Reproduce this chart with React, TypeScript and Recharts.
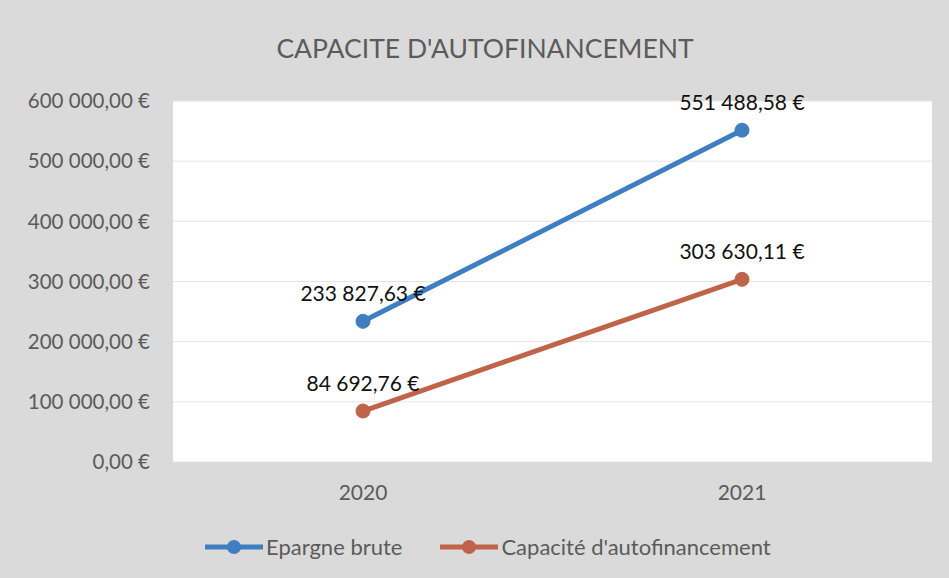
import React from 'react';
import { LineChart, Line, XAxis, YAxis, CartesianGrid, LabelList } from 'recharts';

const years = ['2020', '2021'];
const epargneBrute = [233827.63, 551488.58];
const capaciteAutofinancement = [84692.76, 303630.11];
const yTicks = [0, 100000, 200000, 300000, 400000, 500000, 600000];

const BLUE = '#3f7fc1';
const RED = '#c0634b';
const GREY_TEXT = '#5b5b5b';
const FONT = 'Lato, "Open Sans", sans-serif';

const data = years.map((year, i) => ({
  year,
  epargne: epargneBrute[i],
  caf: capaciteAutofinancement[i],
}));

function formatEuro(value: number): string {
  const [intPart, decPart] = value.toFixed(2).split('.');
  const grouped = intPart.replace(/\B(?=(\d{3})+(?!\d))/g, ' ');
  return `${grouped},${decPart} €`;
}

function LegendItem({ color, label }: { color: string; label: string }) {
  return (
    <span style={{ display: 'inline-flex', alignItems: 'center' }}>
      <svg width={58} height={16} style={{ marginRight: 3 }}>
        <line x1={0} y1={8} x2={58} y2={8} stroke={color} strokeWidth={5} />
        <circle cx={29} cy={8} r={7} fill={color} />
      </svg>
      {label}
    </span>
  );
}

export default function App() {
  return (
    <div
      style={{
        position: 'relative',
        width: 949,
        height: 578,
        background: '#dadada',
        fontFamily: FONT,
        overflow: 'hidden',
      }}
    >
      <style>{'body{margin:0}'}</style>
      <div
        style={{
          position: 'absolute',
          top: 32,
          left: 0,
          width: 970,
          textAlign: 'center',
          fontSize: 26.5,
          color: GREY_TEXT,
        }}
      >
        CAPACITE D'AUTOFINANCEMENT
      </div>
      <LineChart
        width={949}
        height={578}
        data={data}
        margin={{ top: 101, right: 17, left: 0, bottom: 76 }}
      >
        <CartesianGrid vertical={false} stroke="#e4e4e4" fill="#ffffff" />
        <XAxis
          dataKey="year"
          height={40}
          padding={{ left: 190, right: 190 }}
          axisLine={false}
          tickLine={false}
          tickSize={0}
          tickMargin={23}
          tick={{ fill: GREY_TEXT, fontSize: 21, fontFamily: FONT }}
        />
        <YAxis
          width={173}
          domain={[0, 600000]}
          ticks={yTicks}
          axisLine={false}
          tickLine={false}
          tickSize={0}
          tickMargin={23}
          tickFormatter={(v: number) => formatEuro(v)}
          tick={{ fill: GREY_TEXT, fontSize: 20.5, fontFamily: FONT }}
        />
        <Line
          type="linear"
          dataKey="epargne"
          stroke={BLUE}
          strokeWidth={5}
          dot={{ r: 7, fill: BLUE, stroke: BLUE, strokeWidth: 1 }}
          isAnimationActive={false}
        >
          <LabelList
            dataKey="epargne"
            position="top"
            offset={20}
            formatter={(v: number) => formatEuro(v)}
            style={{ fill: '#111', fontSize: 21, fontFamily: FONT }}
          />
        </Line>
        <Line
          type="linear"
          dataKey="caf"
          stroke={RED}
          strokeWidth={5}
          dot={{ r: 7, fill: RED, stroke: RED, strokeWidth: 1 }}
          isAnimationActive={false}
        >
          <LabelList
            dataKey="caf"
            position="top"
            offset={20}
            formatter={(v: number) => formatEuro(v)}
            style={{ fill: '#111', fontSize: 21, fontFamily: FONT }}
          />
        </Line>
      </LineChart>
      <div
        style={{
          position: 'absolute',
          top: 533,
          left: 205,
          display: 'flex',
          gap: 38,
          fontSize: 22,
          color: GREY_TEXT,
        }}
      >
        <LegendItem color={BLUE} label="Epargne brute" />
        <LegendItem color={RED} label="Capacité d'autofinancement" />
      </div>
    </div>
  );
}
